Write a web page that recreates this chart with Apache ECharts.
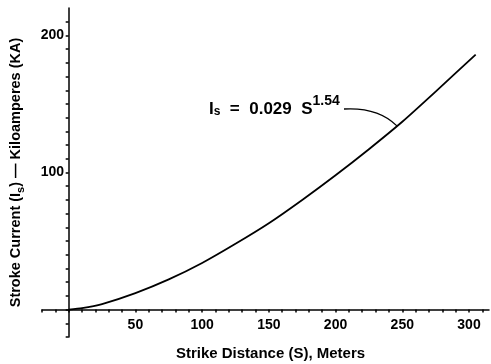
<!DOCTYPE html>
<html>
<head>
<meta charset="utf-8">
<script src="https://cdn.jsdelivr.net/npm/echarts@6/dist/echarts.min.js"></script>
<style>
  html, body { margin: 0; padding: 0; background: #fff; }
  #main { width: 491px; height: 364px; }
</style>
</head>
<body>
<div id="main"></div>
<script>
const strikeDistance = [0, 10, 25, 50, 75, 100, 125, 150, 175, 200, 225, 250, 275, 305]
const strokeCurrent = [0, 1, 4, 12, 22, 34, 48, 63, 80, 98, 117, 137, 159, 186]
const xTickLabels = [50, 100, 150, 200, 250, 300]
const yTickLabels = [100, 200]
const xMinorTicks = [-20, -10, 0, 10, 20, 30, 40, 50, 60, 70, 80, 90, 100, 110, 120, 130, 140, 150, 160, 170, 180, 190, 200, 210, 220, 230, 240, 250, 260, 270, 280, 290, 300, 310]
const yMinorTicks = [-20, -10, 0, 10, 20, 30, 40, 50, 60, 70, 80, 90, 100, 110, 120, 130, 140, 150, 160, 170, 180, 190, 200, 210]

const chart = echarts.init(document.getElementById('main'))
const font = 'Liberation Sans, Arial, sans-serif'

// axes cross at 0,0 inside the grid; labels sit at the grid edge, so pull them in
let option = {
  backgroundColor: '#fff',
  animation: false,
  grid: {
    left: 42,
    right: 2,
    top: 8,
    bottom: 27,
    outerBoundsMode: 'none'
  },
  xAxis: {
    type: 'value',
    min: -20,
    max: 315,
    name: 'Strike Distance (S), Meters',
    nameLocation: 'middle',
    nameGap: 9,
    nameTextStyle: { color: '#000', fontFamily: font, fontWeight: 'bold', fontSize: 15, padding: [0, 0, 0, 10] },
    axisLine: { onZero: true, lineStyle: { color: '#000', width: 1.5 } },
    axisTick: { show: true, length: 3, inside: false, customValues: xMinorTicks, lineStyle: { color: '#000', width: 1.5 } },
    axisLabel: { customValues: xTickLabels, color: '#000', fontFamily: font, fontWeight: 'bold', fontSize: 14, margin: -19 },
    splitLine: { show: false }
  },
  yAxis: {
    type: 'value',
    min: -20,
    max: 220,
    name: '{n|Stroke Current (I}{s|s}{n|) — Kiloamperes (KA)}',
    nameLocation: 'middle',
    nameGap: 16,
    nameRotate: 90,
    nameTextStyle: {
      color: '#000', fontFamily: font, fontWeight: 'bold', fontSize: 14.5,
      rich: {
        n: { color: '#000', fontFamily: font, fontWeight: 'bold', fontSize: 14.5, lineHeight: 20, verticalAlign: 'middle' },
        s: { color: '#000', fontFamily: font, fontWeight: 'bold', fontSize: 11, lineHeight: 20, verticalAlign: 'bottom', padding: [8, 0, 0, 0] }
      }
    },
    axisLine: { onZero: true, lineStyle: { color: '#000', width: 1.5 } },
    axisTick: { show: true, length: 3, customValues: yMinorTicks, lineStyle: { color: '#000', width: 1.5 } },
    axisLabel: { customValues: yTickLabels, color: '#000', fontFamily: font, fontWeight: 'bold', fontSize: 14, margin: -22 },
    splitLine: { show: false }
  },
  series: [{
    type: 'line',
    smooth: 0.2,
    symbol: 'none',
    lineStyle: { color: '#000', width: 1.8 },
    data: strikeDistance.map((s, i) => [s, strokeCurrent[i]])
  }]
}

chart.setOption(option)

// equation annotation with leader to the curve
const tip = chart.convertToPixel({ gridIndex: 0 }, [246, 134])
chart.setOption({
  graphic: [
    {
      type: 'text',
      left: 209,
      top: 94,
      style: {
        text: '{n|I}{s|s}{n|  =  0.029  S}{p|1.54}',
        fill: '#000',
        rich: {
          n: { fontFamily: font, fontWeight: 'bold', fontSize: 17, lineHeight: 24, verticalAlign: 'bottom', fill: '#000' },
          s: { fontFamily: font, fontWeight: 'bold', fontSize: 12, lineHeight: 24, verticalAlign: 'bottom', padding: [10, 0, 0, 0], fill: '#000' },
          p: { fontFamily: font, fontWeight: 'bold', fontSize: 14, lineHeight: 24, verticalAlign: 'top', padding: [0, 0, 8, 0], fill: '#000' }
        }
      }
    },
    {
      type: 'bezierCurve',
      shape: {
        x1: 344, y1: 109,
        cpx1: 378, cpy1: 107,
        x2: tip[0], y2: tip[1]
      },
      style: { stroke: '#000', lineWidth: 1.3, fill: null }
    }
  ]
})
</script>
</body>
</html>
